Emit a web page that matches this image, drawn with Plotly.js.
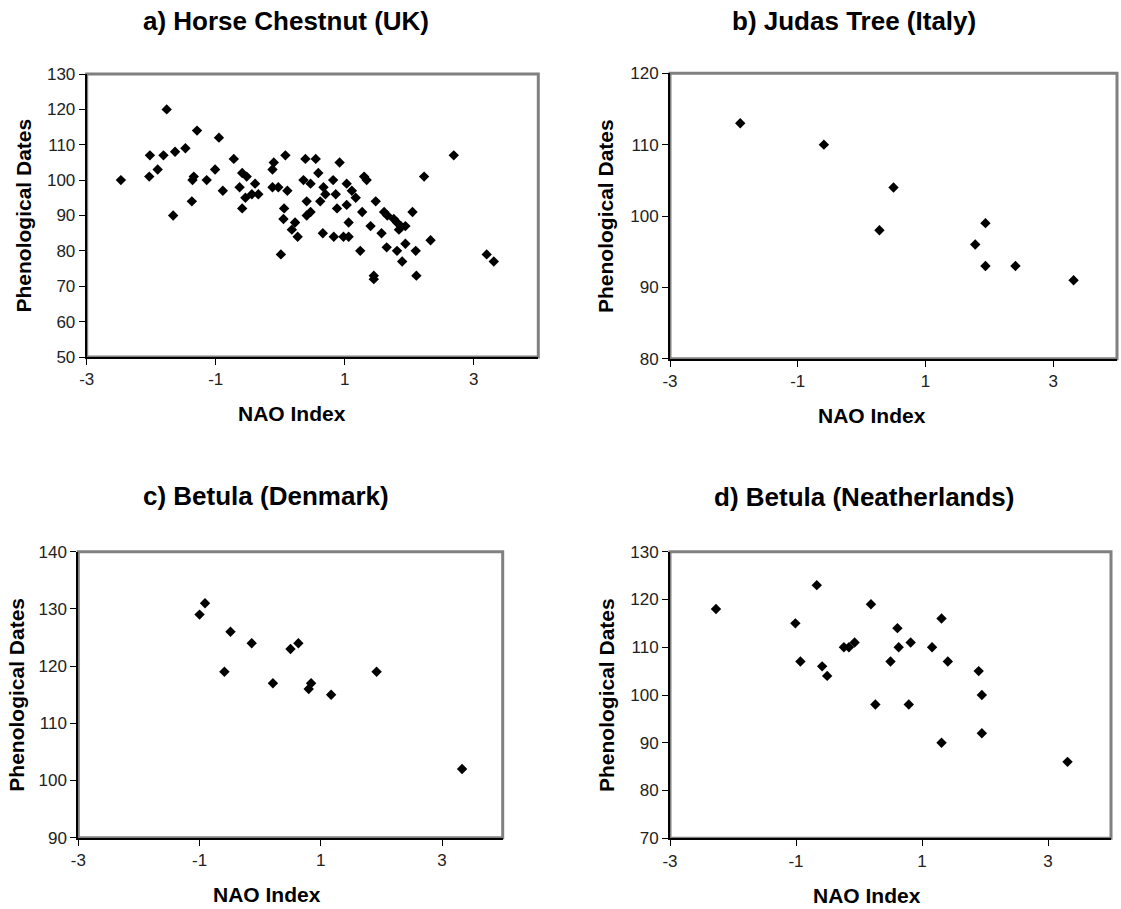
<!DOCTYPE html>
<html><head><meta charset="utf-8">
<script src="https://cdn.plot.ly/plotly-3.0.1.min.js"></script>
<style>html,body{margin:0;padding:0;background:#fff}#chart{width:1121px;height:909px}</style>
</head><body><div id="chart"></div>
<script>
const W = 1121, H = 909;

// a) Horse Chestnut (UK)
const horseX = [-2.47,-1.76,-1.29,-0.95,-2.02,-1.81,-1.63,-1.47,-2.03,-1.90,-1.34,-1.36,-1.14,-1.01,-1.37,-1.66,
  -0.89,-0.72,-0.59,-0.52,-0.63,-0.39,-0.54,-0.44,-0.34,-0.59,-0.10,-0.12,0.08,-0.12,-0.03,0.11,0.06,0.05,0.23,0.18,0.27,0.01,
  0.39,0.55,0.59,0.36,0.47,0.41,0.47,0.41,0.67,0.70,0.62,0.82,0.92,0.86,0.88,0.66,0.83,0.98,1.06,1.03,1.11,1.03,1.17,1.06,1.30,1.27,1.24,
  2.69,2.23,1.34,1.48,1.61,1.66,1.76,1.81,1.87,1.94,1.84,2.05,1.40,1.57,2.33,1.65,1.81,1.94,2.10,1.89,3.20,3.31,
  1.45,1.45,2.11];
const horseY = [100,120,114,112,107,107,108,109,101,103,101,100,100,103,94,90,
  97,106,102,101,98,99,95,96,96,92,105,103,107,98,98,97,92,89,88,86,84,79,
  106,106,102,100,99,94,91,90,98,96,94,100,105,96,92,85,84,84,84,99,97,93,95,88,101,91,80,
  107,101,100,94,91,90,89,88,87,87,86,91,87,85,83,81,80,82,80,77,79,77,
  73,72,73];

// b) Judas Tree (Italy)
const judasX = [-1.90,-0.59,0.50,0.28,1.94,1.78,1.94,2.41,3.32];
const judasY = [113,110,104,98,99,96,93,93,91];

// c) Betula (Denmark)
const denX = [-1.00,-0.91,-0.49,-0.59,-0.14,0.21,0.50,0.63,0.80,0.84,1.17,1.92,3.33];
const denY = [129,131,126,119,124,117,123,124,116,117,115,119,102];

// d) Betula (Neatherlands)
const nlX = [-2.27,-1.01,-0.93,-0.67,-0.585,-0.505,-0.24,-0.16,-0.07,0.19,0.26,0.50,0.61,0.63,0.79,0.82,1.16,1.31,1.41,1.31,1.90,1.95,1.95,3.31];
const nlY = [118,115,107,123,106,104,110,110,111,119,98,107,114,110,98,111,110,116,107,90,105,100,92,86];

// tick labels (plain hyphen minus as in the original)
const xTickVals = [-3, -1, 1, 3];
const xTickText = ["-3", "-1", "1", "3"];

const titles = ["a) Horse Chestnut (UK)", "b) Judas Tree (Italy)", "c) Betula (Denmark)", "d) Betula (Neatherlands)"];
const xTitle = "NAO Index";
const yTitle = "Phenological Dates";

const FONT = "Liberation Sans, Arial, Helvetica, sans-serif";

// panel geometry in pixels: [left, right, top, bottom]
const panels = [
  {x: horseX, y: horseY, box: [86.7, 538.3, 74, 357], yr: [50, 130], tx: 286, ty: 21, ax: 292, ayx: 23},
  {x: judasX, y: judasY, box: [670, 1117, 73.3, 358.7], yr: [80, 120], tx: 854, ty: 21, ax: 872, ayx: 605},
  {x: denX, y: denY, box: [78.3, 502.7, 551.7, 837.7], yr: [90, 140], tx: 266, ty: 496, ax: 267, ayx: 17},
  {x: nlX, y: nlY, box: [670, 1111, 551.7, 838.3], yr: [70, 130], tx: 864, ty: 497, ax: 867, ayx: 606}
];

const px = v => v / W;
const py = v => 1 - v / H;

const data = [];
const layout = {
  width: W, height: H,
  margin: {l: 0, r: 0, t: 0, b: 0},
  paper_bgcolor: '#ffffff', plot_bgcolor: '#ffffff',
  showlegend: false,
  font: {family: FONT, color: '#000'},
  annotations: [], shapes: []
};

panels.forEach((p, i) => {
  const n = i + 1;
  const xa = n === 1 ? 'x' : 'x' + n;
  const ya = n === 1 ? 'y' : 'y' + n;
  data.push({
    type: 'scatter', mode: 'markers', x: p.x, y: p.y, xaxis: xa, yaxis: ya,
    marker: {symbol: 'diamond', size: 8, color: '#000', line: {width: 0}},
    hoverinfo: 'x+y'
  });
  const [l, r, t, b] = p.box;
  const axisCommon = {
    showgrid: false, zeroline: false, showline: true, linecolor: '#000', linewidth: 2,
    ticks: 'outside', ticklen: 6, tickwidth: 1, tickcolor: '#000',
    tickfont: {family: FONT, size: 17, color: '#222'}, fixedrange: true
  };
  layout['xaxis' + (n === 1 ? '' : n)] = Object.assign({}, axisCommon, {
    domain: [px(l), px(r)], anchor: ya, range: [-3, 4], tickmode: 'array', tickvals: xTickVals, ticktext: xTickText
  });
  layout['yaxis' + (n === 1 ? '' : n)] = Object.assign({}, axisCommon, {
    domain: [py(b), py(t)], anchor: xa, range: p.yr, tickmode: 'linear', tick0: p.yr[0], dtick: 10
  });
  layout.shapes.push({
    type: 'rect', xref: xa + ' domain', yref: ya + ' domain', x0: 0, x1: 1, y0: 0, y1: 1,
    line: {color: '#808080', width: 3}, layer: 'below'
  });
  layout.annotations.push({
    text: '<b>' + titles[i] + '</b>', xref: 'paper', yref: 'paper', x: px(p.tx), y: py(p.ty),
    xanchor: 'center', yanchor: 'middle', showarrow: false, font: {family: FONT, size: 26, color: '#000'}
  });
  layout.annotations.push({
    text: '<b>' + xTitle + '</b>', xref: 'paper', yref: 'paper', x: px(p.ax), y: py(b + 57),
    xanchor: 'center', yanchor: 'middle', showarrow: false, font: {family: FONT, size: 21, color: '#000'}
  });
  layout.annotations.push({
    text: '<b>' + yTitle + '</b>', xref: 'paper', yref: 'paper', x: px(p.ayx), y: py((t + b) / 2),
    xanchor: 'center', yanchor: 'middle', textangle: -90, showarrow: false, font: {family: FONT, size: 21, color: '#000'}
  });
});

Plotly.newPlot('chart', data, layout, {displayModeBar: false});
</script>
</body></html>
